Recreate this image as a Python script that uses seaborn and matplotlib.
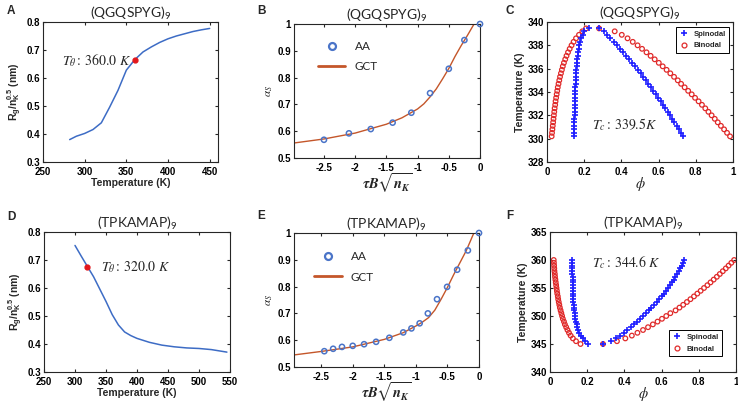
import pandas as pd
import matplotlib
matplotlib.use('Agg')
import matplotlib.pyplot as plt
from matplotlib.ticker import FuncFormatter
from matplotlib.lines import Line2D
import seaborn as sns

# %% data
# A : Rg/nK^0.5 vs temperature for (QGQSPYG)9
temp_a = [282, 290, 300, 310, 320, 330, 340, 350, 360, 370, 380, 390, 400, 410, 420, 430, 440, 450]
rg_a = [0.380, 0.392, 0.402, 0.416, 0.440, 0.496, 0.556, 0.628, 0.665, 0.693, 0.711, 0.727,
        0.740, 0.750, 0.758, 0.766, 0.772, 0.777]
theta_a = [360.0, 0.665]

# D : Rg/nK^0.5 vs temperature for (TPKAMAP)9
temp_d = [300, 310, 320, 330, 340, 350, 360, 370, 380, 390, 400, 420, 440, 460, 480, 500, 520, 545]
rg_d = [0.752, 0.714, 0.677, 0.640, 0.596, 0.552, 0.505, 0.468, 0.443, 0.430, 0.420, 0.406,
        0.396, 0.390, 0.386, 0.384, 0.380, 0.371]
theta_d = [320.0, 0.674]

# B : alpha_s, all atom points and GCT curve
aa_x_b = [-2.5, -2.1, -1.75, -1.4, -1.1, -0.8, -0.5, -0.25, 0.0]
aa_y_b = [0.568, 0.592, 0.608, 0.632, 0.669, 0.742, 0.833, 0.940, 1.0]
gct_x_b = [-2.98, -2.5, -2.0, -1.5, -1.25, -1.0, -0.9, -0.8, -0.7, -0.6, -0.5, -0.4, -0.3, -0.2, -0.1, 0.0]
gct_y_b = [0.556, 0.571, 0.593, 0.626, 0.650, 0.683, 0.702, 0.728, 0.758, 0.795, 0.834, 0.879,
           0.920, 0.958, 0.998, 1.040]

# E
aa_x_e = [-2.45, -2.31, -2.17, -2.0, -1.82, -1.63, -1.42, -1.2, -1.07, -0.94, -0.81, -0.665,
          -0.505, -0.346, -0.176, 0.0]
aa_y_e = [0.559, 0.568, 0.575, 0.579, 0.585, 0.594, 0.609, 0.629, 0.644, 0.663, 0.700, 0.753,
          0.799, 0.863, 0.935, 1.0]
gct_x_e = [-2.93, -2.5, -2.0, -1.5, -1.2, -1.0, -0.9, -0.8, -0.7, -0.6, -0.5, -0.4, -0.3, -0.2, -0.1, 0.0]
gct_y_e = [0.545, 0.558, 0.575, 0.603, 0.628, 0.653, 0.667, 0.684, 0.712, 0.753, 0.797, 0.845,
           0.890, 0.935, 0.990, 1.040]

# C : phase diagram (QGQSPYG)9
temp_c = [330.2, 330.5, 330.8, 331.1, 331.4, 331.7, 332.0, 332.3, 332.6, 332.9, 333.2, 333.5,
          333.8, 334.1, 334.4, 334.7, 335.0, 335.3, 335.6, 335.9, 336.2, 336.5, 336.8, 337.1,
          337.4, 337.7, 338.0, 338.3, 338.6, 338.9, 339.2, 339.45]
spin_left_c = [0.145, 0.145, 0.146, 0.146, 0.147, 0.147, 0.148, 0.148, 0.149, 0.149, 0.150, 0.151,
               0.151, 0.152, 0.153, 0.154, 0.155, 0.156, 0.157, 0.158, 0.160, 0.161, 0.163, 0.165,
               0.168, 0.171, 0.174, 0.178, 0.184, 0.191, 0.201, 0.226]
spin_right_c = [0.733, 0.722, 0.710, 0.698, 0.685, 0.673, 0.660, 0.648, 0.636, 0.623, 0.611, 0.598,
                0.585, 0.572, 0.559, 0.545, 0.531, 0.517, 0.503, 0.489, 0.474, 0.459, 0.443, 0.427,
                0.411, 0.394, 0.376, 0.358, 0.340, 0.322, 0.305, 0.280]
bino_left_c = [0.025, 0.027, 0.029, 0.031, 0.033, 0.035, 0.037, 0.039, 0.041, 0.044, 0.046, 0.049,
               0.052, 0.055, 0.058, 0.062, 0.066, 0.070, 0.075, 0.080, 0.085, 0.091, 0.098, 0.105,
               0.113, 0.122, 0.132, 0.143, 0.156, 0.172, 0.190, 0.210]
bino_right_c = [0.984, 0.968, 0.952, 0.935, 0.918, 0.902, 0.885, 0.868, 0.851, 0.833, 0.815, 0.796,
                0.778, 0.759, 0.740, 0.721, 0.703, 0.683, 0.663, 0.643, 0.622, 0.601, 0.579, 0.557,
                0.535, 0.511, 0.487, 0.461, 0.433, 0.402, 0.364, 0.280]

# F : phase diagram (TPKAMAP)9
temp_f = [345.0, 345.5, 346.0, 346.5, 347.0, 347.5, 348.0, 348.5, 349.0, 349.5, 350.0, 350.5,
          351.0, 351.5, 352.0, 352.5, 353.0, 353.5, 354.0, 354.5, 355.0, 355.5, 356.0, 356.5,
          357.0, 357.5, 358.0, 358.5, 359.0, 359.5, 360.0]
spin_left_f = [0.204, 0.188, 0.176, 0.166, 0.158, 0.152, 0.147, 0.143, 0.140, 0.137, 0.134, 0.132,
               0.130, 0.129, 0.127, 0.126, 0.125, 0.124, 0.123, 0.123, 0.122, 0.122, 0.121, 0.121,
               0.121, 0.120, 0.120, 0.120, 0.120, 0.120, 0.120]
spin_right_f = [0.285, 0.330, 0.355, 0.378, 0.398, 0.416, 0.434, 0.451, 0.468, 0.484, 0.500, 0.515,
                0.530, 0.545, 0.559, 0.573, 0.587, 0.600, 0.613, 0.624, 0.635, 0.645, 0.655, 0.665,
                0.674, 0.683, 0.691, 0.699, 0.707, 0.714, 0.721]
bino_left_f = [0.164, 0.140, 0.123, 0.111, 0.102, 0.094, 0.087, 0.080, 0.075, 0.069, 0.065, 0.061,
               0.057, 0.053, 0.050, 0.047, 0.044, 0.042, 0.039, 0.037, 0.035, 0.033, 0.031, 0.029,
               0.027, 0.026, 0.024, 0.023, 0.022, 0.021, 0.020]
bino_right_f = [0.285, 0.360, 0.405, 0.440, 0.470, 0.500, 0.527, 0.553, 0.578, 0.602, 0.625, 0.647,
                0.675, 0.696, 0.716, 0.736, 0.755, 0.774, 0.792, 0.810, 0.828, 0.846, 0.863, 0.880,
                0.897, 0.913, 0.929, 0.945, 0.960, 0.975, 0.990]

titles = ['(QGQSPYG)$_9$', '(TPKAMAP)$_9$']

# %% style
sns.set_style('ticks')
plt.rcParams['font.family'] = ['Liberation Sans', 'DejaVu Sans']
plt.rcParams['mathtext.fontset'] = 'custom'
plt.rcParams['mathtext.rm'] = 'Lato'
plt.rcParams['mathtext.it'] = 'Lato:italic'
plt.rcParams['mathtext.bf'] = 'Liberation Sans:bold'
plt.rcParams['xtick.direction'] = 'in'
plt.rcParams['ytick.direction'] = 'in'
plt.rcParams['xtick.top'] = True
plt.rcParams['ytick.right'] = True
plt.rcParams['xtick.major.size'] = 2.5
plt.rcParams['ytick.major.size'] = 2.5
plt.rcParams['axes.edgecolor'] = '#262626'
plt.rcParams['axes.linewidth'] = 0.8

blue_line = '#3d6cc5'
red_dot = '#e3171c'
gct_col = '#c4562a'
aa_col = '#4a74c8'

W, H = 738, 404
fig = plt.figure(figsize=(7.38, 4.04), dpi=100)


def rect(l, t, r, b):
    return [l / W, 1 - b / H, (r - l) / W, (b - t) / H]


def style(ax, title):
    ax.set_title(title, fontsize=10, family='Lato', pad=2)
    fmt = FuncFormatter(lambda v, p: f'{v:g}')
    ax.xaxis.set_major_formatter(fmt)
    ax.yaxis.set_major_formatter(fmt)
    ax.tick_params(labelsize=7, pad=2, colors='#262626', labelcolor='black')
    ax.tick_params(axis='x', pad=3.5)
    for lab in ax.get_xticklabels() + ax.get_yticklabels():
        lab.set_fontweight('bold')


def rg_panel(ax, temp, rg, theta, xmax, xticks, label_xy, title):
    df = pd.DataFrame({'T': temp, 'rg': rg})
    sns.lineplot(data=df, x='T', y='rg', ax=ax, color=blue_line, lw=1.1)
    ax.plot(theta[0], theta[1], 'o', color=red_dot, ms=3.5)
    ax.text(label_xy[0], label_xy[1], r'$T_\theta{:}\,%.1f\ K$' % theta[0], fontsize=10,
            va='center', math_fontfamily='stix')
    ax.set_xlim(250, xmax)
    ax.set_ylim(0.3, 0.8)
    ax.set_xticks(xticks)
    ax.set_yticks([0.3, 0.4, 0.5, 0.6, 0.7, 0.8])
    ax.set_xlabel('Temperature (K)', fontsize=7.5, fontweight='bold', labelpad=1)
    ax.set_ylabel(r'R$_\mathbf{g}$/n$_\mathbf{K}^\mathbf{0.5}$ (nm)', fontsize=7.5,
                  fontweight='bold', labelpad=2)
    style(ax, title)


def alpha_panel(ax, aa_x, aa_y, gct_x, gct_y, xmin, leg_xy, title):
    sns.lineplot(x=gct_x, y=gct_y, ax=ax, color=gct_col, lw=1.0, sort=False)
    sns.scatterplot(x=aa_x, y=aa_y, ax=ax, marker='o', s=14, fc='none', ec=aa_col,
                    linewidth=1.1, zorder=3, clip_on=False)
    ax.set_xlim(xmin, 0)
    ax.set_ylim(0.5, 1.0)
    ax.set_xticks([-2.5, -2, -1.5, -1, -0.5, 0])
    ax.set_yticks([0.5, 0.6, 0.7, 0.8, 0.9, 1.0])
    ax.set_xlabel(r'$\mathbfit{\tau B\sqrt{n_K}}$', fontsize=10.5, math_fontfamily='stix',
                  labelpad=-1)
    ax.set_ylabel(r'$\alpha_S$', fontsize=8, math_fontfamily='stix', labelpad=2)
    handles = [Line2D([], [], ls='none', marker='o', ms=5, mfc='none', mec=aa_col, mew=1.6),
               Line2D([], [], color=gct_col, lw=2)]
    ax.legend(handles, ['AA', 'GCT'], frameon=False, loc='upper left', bbox_to_anchor=leg_xy,
              borderaxespad=0, borderpad=0, handlelength=2.3, labelspacing=0.8,
              prop={'family': 'Lato', 'size': 8.5})
    style(ax, title)


def phase_panel(ax, temp, sl, sr, bl, br, ylim, yticks, tc_xy, tc, leg_loc, leg_anchor, title):
    sp_phi = sl + sr
    bi_phi = bl + br
    sns.scatterplot(x=bi_phi, y=temp + temp, ax=ax, marker='o', s=11, fc='none', ec='#e02a2a',
                    linewidth=0.9, zorder=2, clip_on=False)
    sns.scatterplot(x=sp_phi, y=temp + temp, ax=ax, marker='+', s=14, color='#1f1fff',
                    linewidth=1.2, zorder=3, clip_on=False)
    ax.set_xlim(0, 1)
    ax.set_ylim(*ylim)
    ax.set_xticks([0, 0.2, 0.4, 0.6, 0.8, 1])
    ax.set_yticks(yticks)
    ax.text(tc_xy[0], tc_xy[1], tc, fontsize=10, va='center', math_fontfamily='stix')
    ax.set_xlabel(r'$\phi$', fontsize=10.5, math_fontfamily='stix', labelpad=-1)
    ax.set_ylabel('Temperature (K)', fontsize=7.5, fontweight='bold', labelpad=2)
    handles = [Line2D([], [], ls='none', marker='+', ms=4, color='#1f1fff', mew=1.2),
               Line2D([], [], ls='none', marker='o', ms=3.5, mfc='none', mec='#e02a2a', mew=0.9)]
    leg = ax.legend(handles, ['Spinodal', 'Binodal'], loc=leg_loc, bbox_to_anchor=leg_anchor,
                    borderaxespad=0, fancybox=False, edgecolor='black', framealpha=1,
                    handlelength=1.2, handletextpad=0.6, borderpad=0.45, labelspacing=0.55,
                    prop={'weight': 'bold', 'size': 5.5})
    leg.get_frame().set_linewidth(0.7)
    style(ax, title)


ax_a = fig.add_axes(rect(43, 22, 218, 162))
ax_b = fig.add_axes(rect(294, 24, 480, 158))
ax_c = fig.add_axes(rect(547, 22, 733, 162))
ax_d = fig.add_axes(rect(44, 232, 230, 372))
ax_e = fig.add_axes(rect(294, 233, 479, 367))
ax_f = fig.add_axes(rect(550, 232, 736, 372))

rg_panel(ax_a, temp_a, rg_a, theta_a, 460, [250, 300, 350, 400, 450], (273, 0.663), titles[0])
rg_panel(ax_d, temp_d, rg_d, theta_d, 550, [250, 300, 350, 400, 450, 500, 550], (342, 0.675),
         titles[1])
alpha_panel(ax_b, aa_x_b, aa_y_b, gct_x_b, gct_y_b, -2.98, (0.13, 0.875), titles[0])
alpha_panel(ax_e, aa_x_e, aa_y_e, gct_x_e, gct_y_e, -2.93, (0.11, 0.865), titles[1])
phase_panel(ax_c, temp_c, spin_left_c, spin_right_c, bino_left_c, bino_right_c, (328, 340),
            [328, 330, 332, 334, 336, 338, 340], (0.24, 331.2), r'$T_c{:}\,339.5K$',
            'upper right', (0.98, 0.965), titles[0])
phase_panel(ax_f, temp_f, spin_left_f, spin_right_f, bino_left_f, bino_right_f, (340, 365),
            [340, 345, 350, 355, 360, 365], (0.224, 359.5), r'$T_c{:}\,344.6\ K$',
            'lower right', (0.925, 0.114), titles[1])

for letter, x, y in [('A', 7, 14), ('B', 257, 14), ('C', 506, 14),
                     ('D', 7, 220), ('E', 257, 219), ('F', 506, 219)]:
    fig.text(x / W, 1 - y / H, letter, fontsize=8.5, fontweight='bold', va='baseline')

plt.savefig('out.png', dpi=100)
